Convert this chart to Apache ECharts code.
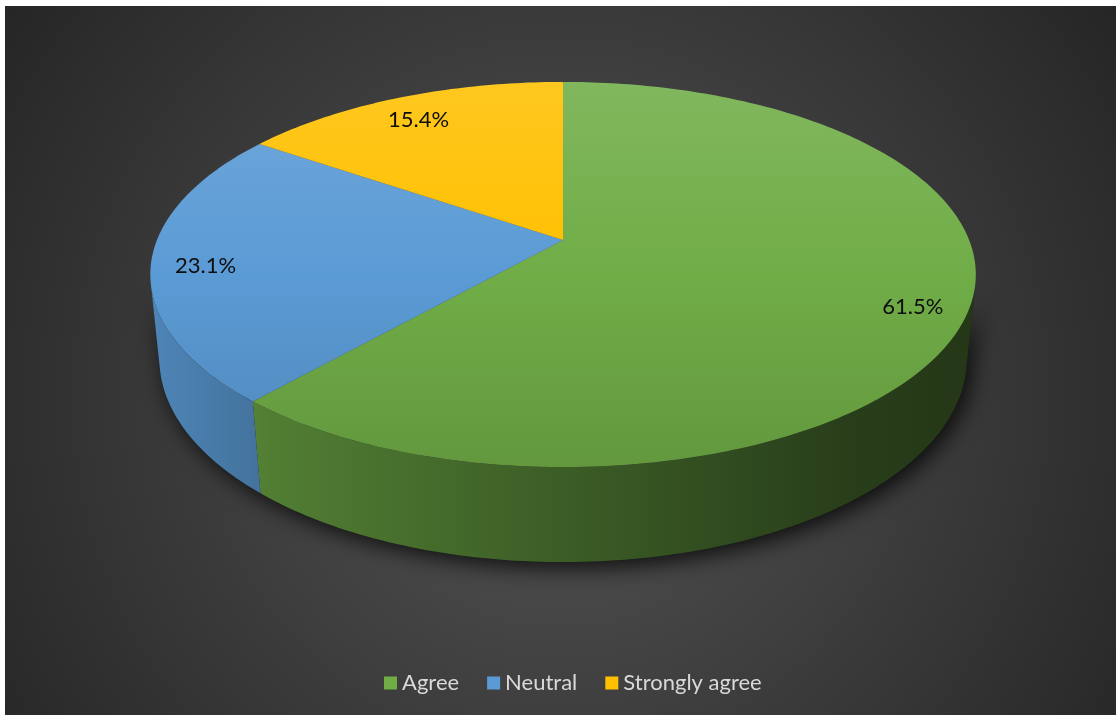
<!DOCTYPE html>
<html><head><meta charset="utf-8">
<script src="https://cdn.jsdelivr.net/npm/echarts@6/dist/echarts.min.js"></script>
<style>
html,body{margin:0;padding:0;background:#fff;width:1116px;height:715px;overflow:hidden}
#chart{position:absolute;left:5px;top:6px;width:1111px;height:709px}
</style>
</head><body><div id="chart"></div>
<script>
// ---- data ----
const categories = ['Agree', 'Neutral', 'Strongly agree'];
const values = [61.5, 23.1, 15.4];
const colors = ['#70AD47', '#5B9BD5', '#FFC000'];

// ---- derived angles (clockwise from 12 o'clock) ----
const total = values.reduce((a, b) => a + b, 0);
const starts = [];
let acc = 0;
values.forEach(v => { starts.push(acc / total * 360); acc += v; });

// ---- 3D perspective projection ----
const D = 4.96, SIN = 0.459, COS = Math.sqrt(1 - SIN * SIN), T = 0.2357;
const TH1 = Math.acos(-1 / (D * COS)) * 180 / Math.PI;
const TH2 = 360 - TH1;
function geom(api) {
  const W = api.getWidth(), H = api.getHeight();
  return { cx: W * 0.5023, cy: H * 0.330, F: W * 0.3655 * D };
}
function proj(g, theta, r, yw) {
  const a = theta * Math.PI / 180;
  const u = r * Math.sin(a), v = r * Math.cos(a);
  const depth = D + v * COS - yw * SIN;
  return [g.cx + g.F * u / depth, g.cy - g.F * (yw * COS + v * SIN) / depth];
}
function arc(g, a0, a1, r, yw) {
  const pts = [];
  const n = Math.max(2, Math.ceil(Math.abs(a1 - a0) / 1));
  for (let k = 0; k <= n; k++) pts.push(proj(g, a0 + (a1 - a0) * k / n, r, yw));
  return pts;
}
function rgb(hex) { const n = parseInt(hex.slice(1), 16); return [(n >> 16) & 255, (n >> 8) & 255, n & 255]; }
function shade(hex, f) { const c = rgb(hex); return 'rgb(' + c.map(x => Math.round(x * f)).join(',') + ')'; }
function tint(hex, t) { const c = rgb(hex); return 'rgb(' + c.map(x => Math.round(x + (255 - x) * t)).join(',') + ')'; }

function topGradient(g, c) {
  const y0 = proj(g, 0, 1, 0)[1], y1 = proj(g, 180, 1, 0)[1];
  return { type: 'linear', global: true, x: 0, y: y0, x2: 0, y2: y1,
    colorStops: [{ offset: 0, color: tint(c, 0.12) }, { offset: 0.5, color: c }, { offset: 1, color: shade(c, 0.88) }] };
}
function wallGradient(g, c) {
  const x0 = proj(g, TH2, 1, 0)[0], x1 = proj(g, TH1, 1, 0)[0];
  return { type: 'linear', global: true, x: x0, y: 0, x2: x1, y2: 0,
    colorStops: [
      { offset: 0, color: shade(c, 0.86) }, { offset: 0.15, color: shade(c, 0.72) },
      { offset: 0.5, color: shade(c, 0.54) }, { offset: 0.85, color: shade(c, 0.36) },
      { offset: 1, color: shade(c, 0.32) }] };
}

function renderSlice(i) {
  return function (params, api) {
    const g = geom(api);
    const a0 = starts[i], a1 = starts[i] + values[i] / total * 360;
    const children = [];
    const w0 = Math.max(a0, TH1), w1 = Math.min(a1, TH2);
    if (w1 > w0) {
      const pts = arc(g, w0, w1, 1, 0).concat(arc(g, w1, w0, 1, -T));
      children.push({ type: 'polygon', shape: { points: pts }, style: { fill: wallGradient(g, colors[i]) } });
    }
    const top = [proj(g, 0, 0, 0)].concat(arc(g, a0, a1, 1, 0));
    children.push({ type: 'polygon', shape: { points: top }, style: { fill: topGradient(g, colors[i]) } });
    const lp = proj(g, (a0 + a1) / 2, 0.87, 0);
    children.push({ type: 'text', style: {
      text: (values[i] / total * 100).toFixed(1) + '%', x: lp[0], y: lp[1] + 6,
      fill: '#0d0d0d', fontSize: 22, fontFamily: 'Lato', align: 'center', verticalAlign: 'middle' } });
    return { type: 'group', children };
  };
}

function renderShadow(params, api) {
  const g = geom(api);
  const pts = arc(g, TH1, TH2, 1, 0).concat(arc(g, TH2, TH1, 1, -T));
  return { type: 'polygon', shape: { points: pts },
    style: { fill: '#1c1c1c', shadowBlur: 22, shadowColor: 'rgba(0,0,0,0.8)', shadowOffsetX: 5, shadowOffsetY: 6 } };
}

const series = [{ type: 'custom', name: '_shadow', coordinateSystem: 'none', silent: true, z: 1,
  data: [[0]], renderItem: renderShadow }];
categories.forEach((name, i) => {
  series.push({ type: 'custom', name, coordinateSystem: 'none', z: 2, silent: true,
    itemStyle: { color: colors[i] }, data: [[i]], renderItem: renderSlice(i) });
});

const chart = echarts.init(document.getElementById('chart'));
chart.setOption({
  animation: false,
  backgroundColor: { type: 'radial', x: 0.5, y: 0.55, r: 0.95,
    colorStops: [{ offset: 0, color: '#555555' }, { offset: 1, color: '#262626' }] },
  legend: {
    data: categories, bottom: 16, left: 374, icon: 'rect', itemWidth: 13, itemHeight: 13, itemGap: 28,
    textStyle: { color: '#d9d9d9', fontSize: 22, fontFamily: 'Lato' }
  },
  series
});
</script>
</body></html>
